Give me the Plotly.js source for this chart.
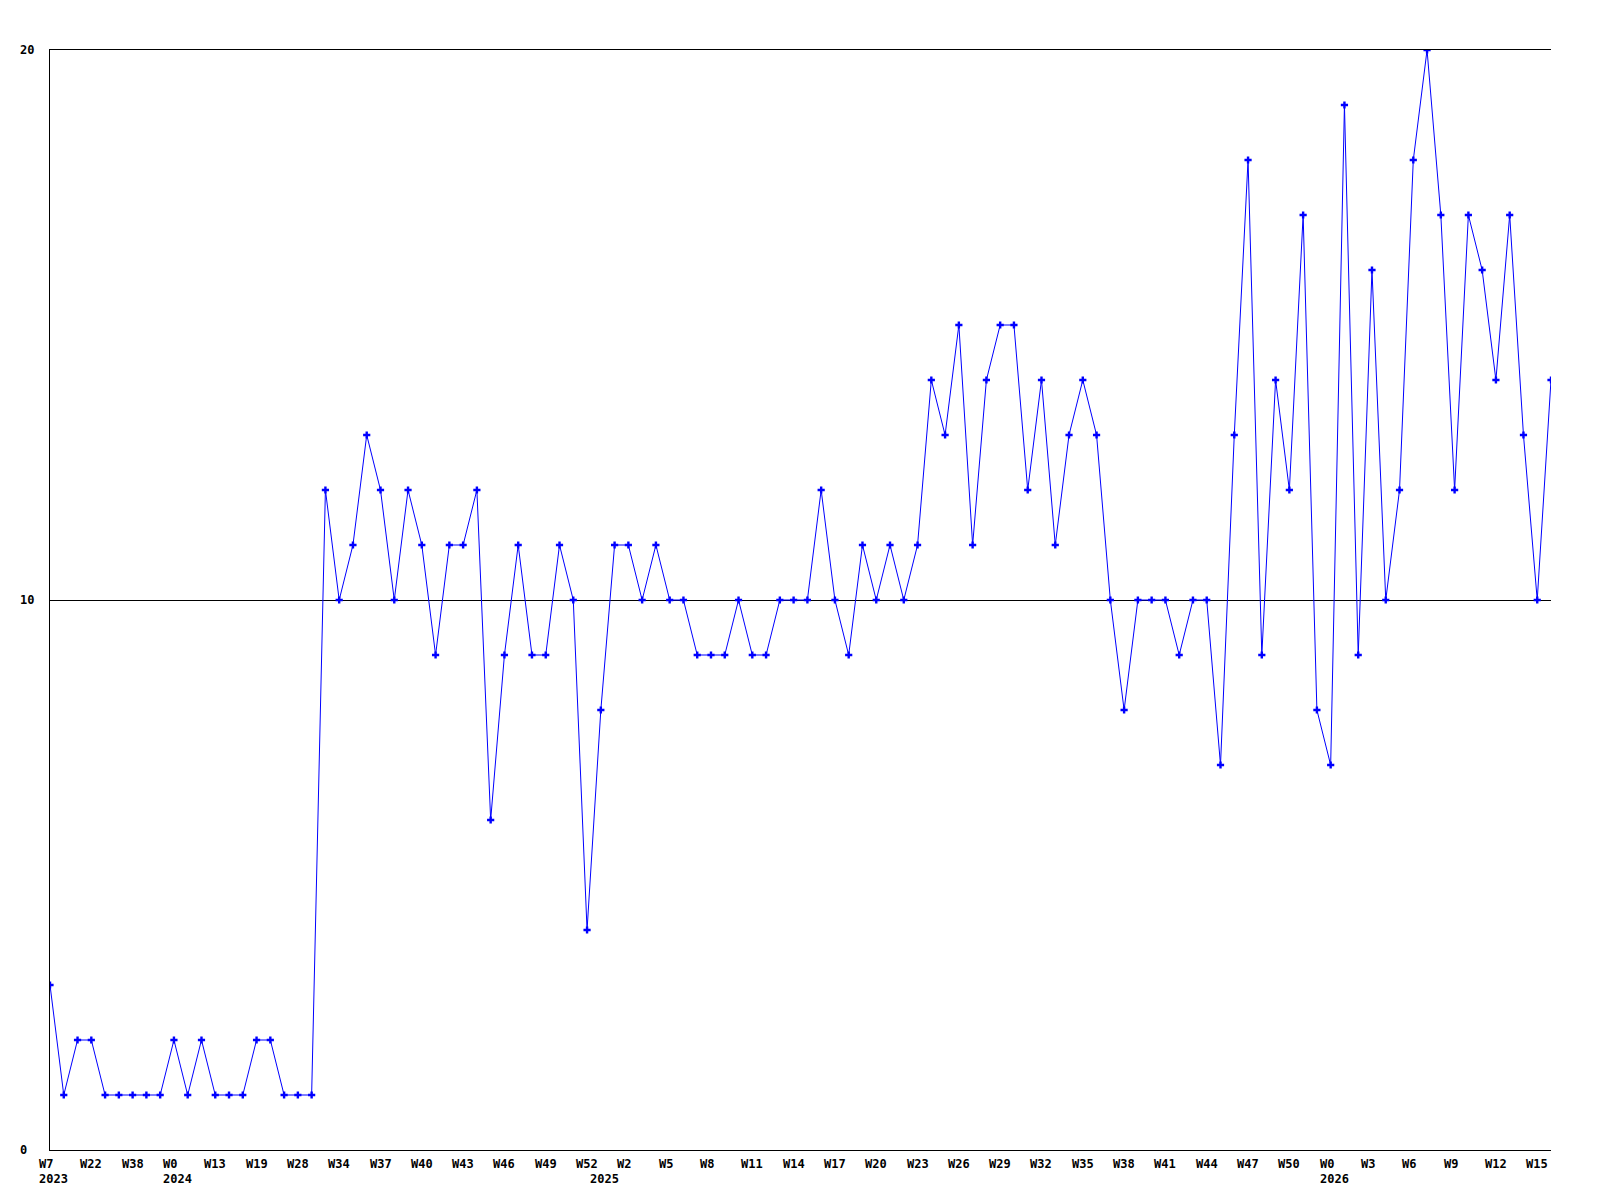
<!DOCTYPE html>
<html>
<head>
<meta charset="utf-8">
<script src="https://cdn.plot.ly/plotly-3.0.1.min.js"></script>
<style>
  html, body { margin: 0; padding: 0; background: #ffffff; }
  #chart { width: 1600px; height: 1200px; }
</style>
</head>
<body>
<div id="chart"></div>
<script>
// Weekly counts, split by year segment (each segment starts at the week labelled with that year)
const counts2023 = [3, 1, 2, 2, 1, 1, 1, 1, 1];
const counts2024 = [2, 1, 2, 1, 1, 1, 2, 2, 1, 1, 1, 12, 10, 11, 13, 12, 10, 12, 11, 9, 11, 11, 12, 6, 9, 11, 9, 9, 11, 10, 4];
const counts2025 = [8, 11, 11, 10, 11, 10, 10, 9, 9, 9, 10, 9, 9, 10, 10, 10, 12, 10, 9, 11, 10, 11, 10, 11, 14, 13, 15, 11, 14, 15, 15, 12, 14, 11, 13, 14, 13, 10, 8, 10, 10, 10, 9, 10, 10, 7, 13, 18, 9, 14, 12, 17, 8];
const counts2026 = [7, 19, 9, 16, 10, 12, 18, 20, 17, 12, 17, 16, 14, 17, 13, 10, 14];

// Week tick labels, shown on every third point
const weekLabels = ["W7", "W22", "W38", "W0", "W13", "W19", "W28", "W34", "W37", "W40", "W43", "W46", "W49",
                    "W52", "W2", "W5", "W8", "W11", "W14", "W17", "W20", "W23", "W26", "W29", "W32",
                    "W35", "W38", "W41", "W44", "W47", "W50", "W0", "W3", "W6", "W9", "W12", "W15"];
const yearLabels = ["2023", "2024", "2025", "2026"];
const yTickValues = [0, 10, 20];

const segments = [counts2023, counts2024, counts2025, counts2026];
const values = [].concat(...segments);
const xs = values.map((_, i) => i);

// year label index = first point of each segment
const yearIdx = [];
let acc = 0;
segments.forEach(s => { yearIdx.push(acc); acc += s.length; });

const labelFont = { family: "'DejaVu Sans Mono', 'Liberation Mono', monospace", size: 12, color: '#000000', weight: 'bold' };

const annotations = [];
weekLabels.forEach((t, k) => {
  annotations.push({
    x: k * 3, xref: 'x', y: 0, yref: 'paper',
    text: '<b>' + t + '</b>', showarrow: false,
    xanchor: 'left', yanchor: 'middle', xshift: -12, yshift: -14,
    font: labelFont, borderpad: 0
  });
});
yearLabels.forEach((t, k) => {
  annotations.push({
    x: yearIdx[k], xref: 'x', y: 0, yref: 'paper',
    text: '<b>' + t + '</b>', showarrow: false,
    xanchor: 'left', yanchor: 'middle', xshift: -12, yshift: -29,
    font: labelFont, borderpad: 0
  });
});
yTickValues.forEach(v => {
  annotations.push({
    x: 0, xref: 'paper', y: v, yref: 'y',
    text: '<b>' + v + '</b>', showarrow: false,
    xanchor: 'left', yanchor: 'middle', xshift: -31.5, yshift: 0,
    font: labelFont, borderpad: 0
  });
});

const trace = {
  x: xs,
  y: values,
  type: 'scatter',
  mode: 'lines+markers',
  line: { color: '#0000ff', width: 1 },
  marker: { symbol: 'cross', size: 6, color: '#0000ff', line: { width: 0 } },
  hoverinfo: 'skip'
};

const layout = {
  width: 1600,
  height: 1200,
  margin: { l: 50, r: 49, t: 50, b: 50, pad: 0 },
  paper_bgcolor: '#ffffff',
  plot_bgcolor: '#ffffff',
  showlegend: false,
  font: labelFont,
  xaxis: {
    range: [0, values.length - 1],
    showgrid: false,
    zeroline: false,
    showline: true,
    mirror: true,
    linecolor: '#000000',
    linewidth: 1,
    ticks: '',
    showticklabels: false,
    fixedrange: true
  },
  yaxis: {
    range: [0, 20],
    tickvals: yTickValues,
    showgrid: true,
    gridcolor: '#000000',
    gridwidth: 1,
    zeroline: false,
    showline: true,
    mirror: false,
    linecolor: '#000000',
    linewidth: 1,
    ticks: '',
    showticklabels: false,
    fixedrange: true
  },
  annotations: annotations
};

Plotly.newPlot('chart', [trace], layout, { displayModeBar: false, staticPlot: true });
</script>
</body>
</html>
